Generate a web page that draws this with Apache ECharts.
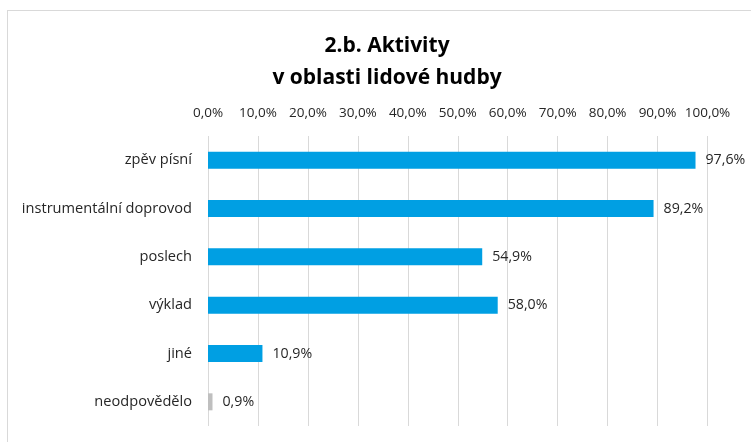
<!DOCTYPE html>
<html><head><meta charset="utf-8">
<script src="https://cdn.jsdelivr.net/npm/echarts@6/dist/echarts.min.js"></script>
<style>
html,body{margin:0;padding:0;background:#fff;overflow:hidden}
#frame{position:absolute;left:7px;top:10px;width:800px;height:500px;border:1px solid #d9d9d9}
#c{position:absolute;left:0;top:0;width:751px;height:442px}
</style></head><body>
<div id="frame"></div>
<div id="c"></div>
<script>
const categories = ['zpěv písní','instrumentální doprovod','poslech','výklad','jiné','neodpovědělo'];
const values = [97.6, 89.2, 54.9, 58.0, 10.9, 0.9];
const barColors = ['#009FE3','#009FE3','#009FE3','#009FE3','#009FE3','#BFBFBF'];
const tickMin = 0, tickMax = 100, tickStep = 10;
const fmt = v => v.toFixed(1).replace('.', ',') + '%';
const font = '"Open Sans", "Noto Sans", sans-serif';
const chart = echarts.init(document.getElementById('c'), null, {renderer:'canvas'});
chart.setOption({
  animation:false,
  title:{text:'2.b. Aktivity\nv oblasti lidové hudby', left:382, textAlign:'center', top:25,
    textStyle:{fontFamily:font, fontWeight:'bold', fontSize:21, color:'#000', lineHeight:32}},
  grid:{left:208, right:43.5, top:136, bottom:16, containLabel:false},
  xAxis:{type:'value', position:'top', min:tickMin, max:tickMax, interval:tickStep,
    axisLine:{show:false}, axisTick:{show:false},
    splitLine:{lineStyle:{color:'#d9d9d9', width:1}},
    axisLabel:{formatter:fmt, fontFamily:font, fontSize:13.5, color:'#262626', margin:16}},
  yAxis:{type:'category', data:categories, inverse:true,
    axisLine:{show:false}, axisTick:{show:false},
    axisLabel:{fontFamily:font, fontSize:14.6, color:'#262626', margin:16}},
  series:[{type:'bar', barWidth:17,
    data: values.map((v,i)=>({value:v, itemStyle:{color:barColors[i]}})),
    label:{show:true, position:'right', distance:10, formatter:p=>fmt(p.value),
      fontFamily:font, fontSize:14.2, color:'#262626'}}]
});
</script></body></html>
